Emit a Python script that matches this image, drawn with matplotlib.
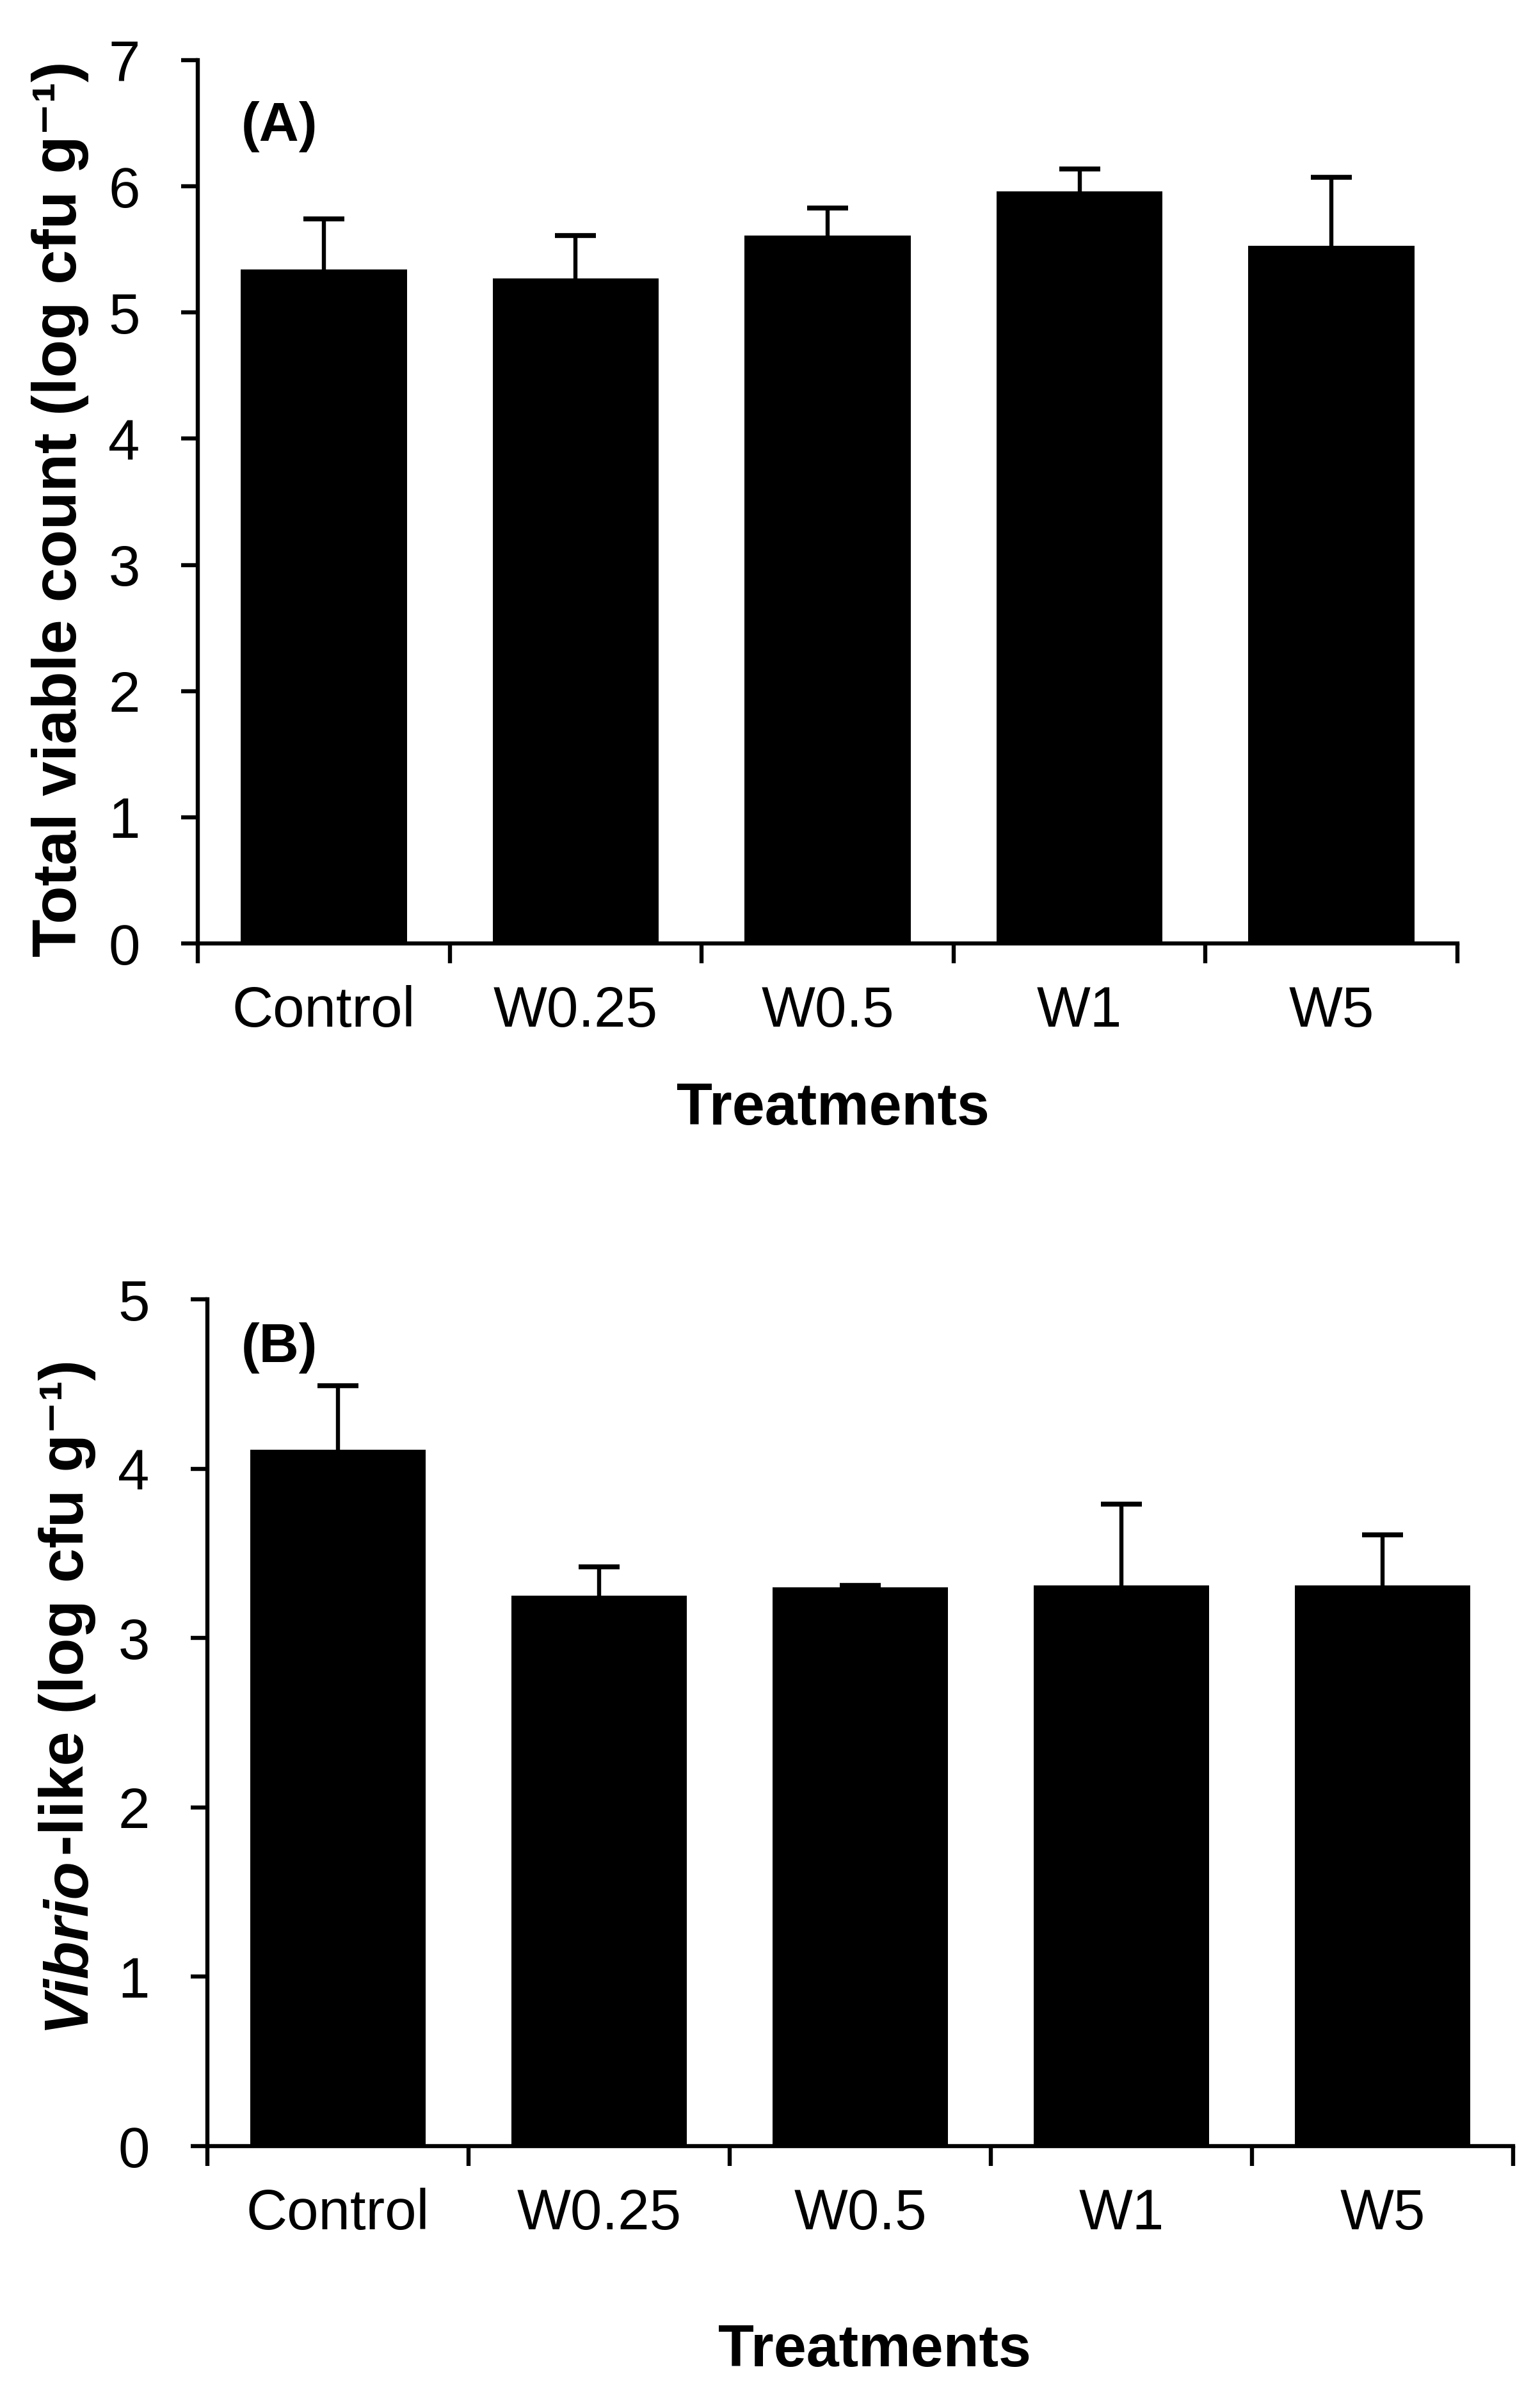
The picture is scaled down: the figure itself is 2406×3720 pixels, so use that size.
import matplotlib
matplotlib.use("Agg")
import matplotlib.pyplot as plt
from matplotlib import font_manager
import numpy as np

# ---------------- data ----------------
categories = ["Control", "W0.25", "W0.5", "W1", "W5"]
tvc_mean = [5.34, 5.27, 5.61, 5.96, 5.53]
tvc_err = [0.40, 0.34, 0.22, 0.18, 0.54]
vibrio_mean = [4.11, 3.25, 3.30, 3.31, 3.31]
vibrio_err = [0.38, 0.17, 0.01, 0.48, 0.30]
yticks_a = [0, 1, 2, 3, 4, 5, 6, 7]
yticks_b = [0, 1, 2, 3, 4, 5]

names = {f.name for f in font_manager.fontManager.ttflist}
NARROW = ["Liberation Sans Narrow", "Liberation Sans", "DejaVu Sans"] if "Liberation Sans Narrow" in names else ["Liberation Sans", "DejaVu Sans"]
WIDE = ["Liberation Sans", "DejaVu Sans"]

W, H = 2406, 3720
DPI = 100
fig = plt.figure(figsize=(W / DPI, H / DPI), dpi=DPI)

TICK_FS = 64
LAB_FS = 70
LW = 4.6


def fx(px):
    return px / W


def fy(py):
    return 1 - py / H


def make_panel(rect, means, errs, yticks, ymax, width):
    ax = fig.add_axes(rect)
    x = np.arange(len(categories))
    ax.bar(x, means, width=width, color="black", edgecolor="black", linewidth=0, zorder=3)
    _, caps, _ = ax.errorbar(x, means, yerr=[np.zeros(len(errs)), errs], fmt="none",
                             ecolor="black", elinewidth=LW, capsize=23,
                             capthick=5.5, zorder=2)
    for c in caps:
        if np.allclose(c.get_ydata(), means):
            c.set_visible(False)
    ax.set_xlim(-0.5, len(categories) - 0.5)
    ax.set_ylim(0, ymax)
    ax.set_yticks(yticks)
    ax.set_yticklabels([str(t) for t in yticks], fontfamily=NARROW, fontsize=TICK_FS)
    ax.set_xticks(x)
    ax.set_xticklabels(categories, fontfamily=NARROW, fontsize=TICK_FS)
    ax.set_xticks(np.arange(len(categories) + 1) - 0.5, minor=True)
    ax.tick_params(axis="x", which="major", length=0, pad=47)
    ax.tick_params(axis="x", which="minor", length=22, width=LW, direction="out")
    ax.tick_params(axis="y", which="major", length=19, width=LW, direction="out", pad=46)
    for s in ["top", "right"]:
        ax.spines[s].set_visible(False)
    for s in ["left", "bottom"]:
        ax.spines[s].set_linewidth(LW)
        ax.spines[s].set_zorder(4)
    ax.set_facecolor("white")
    return ax


axA = make_panel([fx(309), fy(1474), fx(2277) - fx(309), fy(94) - fy(1474)],
                 tvc_mean, tvc_err, yticks_a, 7, 0.66)
axB = make_panel([fx(324), fy(3353), fx(2364) - fx(324), fy(2030) - fy(3353)],
                 vibrio_mean, vibrio_err, yticks_b, 5, 0.67)

# panel letters
fig.text(fx(377), fy(220), "(A)", fontfamily=NARROW, fontweight="bold", fontsize=62,
         ha="left", va="baseline")
fig.text(fx(377), fy(2128), "(B)", fontfamily=NARROW, fontweight="bold", fontsize=62,
         ha="left", va="baseline")

# x labels
fig.text(fx(1301), fy(1757), "Treatments", fontfamily=NARROW, fontweight="bold",
         fontsize=66, ha="center", va="baseline")
fig.text(fx(1366), fy(3697), "Treatments", fontfamily=NARROW, fontweight="bold",
         fontsize=66, ha="center", va="baseline")

# y label A
fig.text(fx(94), fy(795), "Total viable count (log cfu g\u207b\u00b9)", fontfamily=WIDE,
         fontweight="bold", fontsize=LAB_FS, rotation=90, ha="center", va="center")

# y label B: "Vibrio" italic + rest, stacked along rotated baseline
fig.canvas.draw()
renderer = fig.canvas.get_renderer()
rest = "-like (log cfu g\u207b\u00b9)"
t_probe1 = fig.text(0, 0, "Vibrio", fontfamily=WIDE, fontweight="bold", fontstyle="italic",
                    fontsize=LAB_FS, rotation=90)
h1 = t_probe1.get_window_extent(renderer).height
t_probe1.remove()
baseline_x = 130
start = H - 3171  # from bottom, in pixels
fig.text(baseline_x / W, start / H, "Vibrio", fontfamily=WIDE, fontweight="bold",
         fontstyle="italic", fontsize=LAB_FS, rotation=90, rotation_mode="anchor",
         ha="left", va="baseline")
fig.text(baseline_x / W, (start + h1) / H, rest, fontfamily=WIDE, fontweight="bold",
         fontsize=LAB_FS, rotation=90, rotation_mode="anchor", ha="left", va="baseline")

fig.savefig("out.png", dpi=DPI, facecolor="white")
